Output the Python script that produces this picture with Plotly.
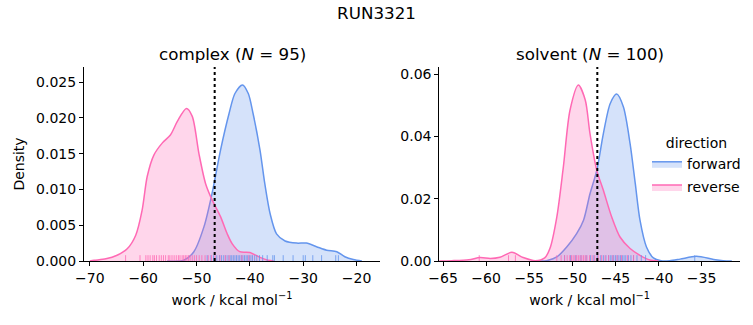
import plotly.graph_objects as go

# ---------------- data ----------------
panel_titles = ["complex (<i>N</i> = 95)", "solvent (<i>N</i> = 100)"]
directions = ["forward", "reverse"]

# KDE curves: complex
complex_fwd_x = [-55.5, -52.4, -50.5, -48.6, -47.1, -45.5, -43.9, -42.8, -41.4, -40.3, -39.4, -38.1,
                 -37.2, -36.2, -35.0, -33.4, -31.2, -29.4, -27.5, -25.6, -23.7, -22.2, -20.6, -19.0]
complex_fwd_y = [0.0, 0.0001, 0.0013, 0.0048, 0.0094, 0.0155, 0.0206, 0.0234, 0.0246, 0.0234, 0.0206, 0.0155,
                 0.0108, 0.0066, 0.0038, 0.0028, 0.0025, 0.0025, 0.0020, 0.0015, 0.0013, 0.0006, 0.0002, 0.0]
complex_rev_x = [-70.0, -69.2, -67.0, -64.9, -63.0, -61.4, -60.2, -59.25, -58.0, -56.4, -54.9, -53.6,
                 -51.9, -50.8, -49.55, -48.3, -47.06, -45.5, -44.25, -43.3, -41.9, -40.0, -38.1, -36.6, -35.5]
complex_rev_y = [0.0, 0.0001, 0.0003, 0.0008, 0.0017, 0.0036, 0.0071, 0.0118, 0.0148, 0.0165, 0.0176, 0.0195,
                 0.0213, 0.0202, 0.0150, 0.0108, 0.0085, 0.0062, 0.0038, 0.0024, 0.0013, 0.0012, 0.0005, 0.0001, 0.0]

# KDE curves: solvent
solvent_fwd_x = [-54.0, -53.0, -51.8, -50.65, -49.5, -48.7, -47.95, -47.17, -46.4, -45.6, -44.85, -44.08,
                 -43.3, -42.7, -42.15, -41.4, -40.6, -39.7, -38.7, -37.5, -35.6, -33.6, -32.5, -31.5]
solvent_fwd_y = [0.0, 0.0001, 0.0013, 0.0045, 0.0088, 0.0131, 0.0216, 0.0290, 0.0409, 0.0506, 0.0536, 0.0495,
                 0.0377, 0.0249, 0.0131, 0.0045, 0.0010, 0.0001, 0.0001, 0.0006, 0.0015, 0.0005, 0.0001, 0.0]
solvent_rev_x = [-65.5, -64.0, -62.0, -60.7, -59.5, -58.4, -57.0, -55.7, -54.3, -53.2, -52.6, -51.8, -51.04,
                 -50.27, -49.3, -48.5, -47.95, -47.17, -46.4, -45.43, -44.47, -43.3, -42.15, -41.0, -40.0]
solvent_rev_y = [0.0, 0.0001, 0.0004, 0.0011, 0.0008, 0.0012, 0.0028, 0.0011, 0.0001, 0.0010, 0.0040, 0.0141, 0.0302,
                 0.0484, 0.0565, 0.0517, 0.0409, 0.0292, 0.0227, 0.0141, 0.0077, 0.0040, 0.0018, 0.0003, 0.0]

# rug samples (approximate positions of the rug ticks)
complex_fwd_rug = [-48.0, -47.3, -46.8, -46.2, -45.7, -45.3, -44.9, -44.5, -44.1, -43.7, -43.4, -43.1, -42.8,
                   -42.5, -42.2, -41.9, -41.6, -41.3, -41.0, -40.7, -40.4, -40.1, -39.8, -39.5, -39.1, -38.7,
                   -38.2, -37.6, -36.75, -35.7, -35.4, -33.75, -31.9, -30.0, -29.6, -28.2, -26.55, -23.9, -23.4]
complex_rev_rug = [-63.3, -60.6, -59.5, -59.1, -58.7, -58.2, -57.9, -57.5, -57.0, -56.6, -56.2, -55.8, -55.3,
                   -55.0, -54.6, -54.2, -53.8, -53.4, -53.1, -52.7, -52.4, -52.1, -51.8, -51.5, -51.2, -50.8,
                   -50.4, -50.0, -49.5, -49.0, -48.4, -47.8, -47.2, -46.5, -45.6, -44.6, -43.9, -41.5, -40.2]
solvent_fwd_rug = [-50.9, -50.2, -49.6, -49.0, -48.4, -47.9, -47.5, -47.1, -46.7, -46.4, -46.1, -45.8, -45.6,
                   -45.4, -45.2, -45.0, -44.8, -44.6, -44.4, -44.2, -44.0, -43.8, -43.5, -43.2, -42.9, -42.5,
                   -42.0, -41.5, -35.8]
solvent_rev_rug = [-60.8, -57.4, -56.6, -51.8, -51.3, -50.9, -50.6, -50.3, -50.1, -49.9, -49.7, -49.5, -49.3,
                   -49.1, -48.9, -48.7, -48.5, -48.3, -48.0, -47.7, -47.4, -47.0, -46.6, -46.2, -45.8, -45.3,
                   -44.8, -44.3, -43.6, -42.9]

# dotted reference line (free energy estimate) per panel
dg_values = [-46.6, -47.1]

# ---------------- styling ----------------
line_colors = {"forward": "rgb(100,149,237)", "reverse": "rgb(255,105,180)"}
fill_colors = {"forward": "rgba(100,149,237,0.27)", "reverse": "rgba(255,105,180,0.27)"}
rug_colors = {"forward": "rgba(100,149,237,0.8)", "reverse": "rgba(255,105,180,0.8)"}
FONT = "DejaVu Sans"
FS = 14
W, H = 753, 325

panels = [
    {"curves": {"forward": (complex_fwd_x, complex_fwd_y), "reverse": (complex_rev_x, complex_rev_y)},
     "rugs": {"forward": complex_fwd_rug, "reverse": complex_rev_rug},
     "xrange": [-71.1, -15.6], "yrange": [0, 0.0271], "ytick": 0.005, "yfmt": ".3f",
     "xtick": 10, "domain": [84 / W, 380 / W]},
    {"curves": {"forward": (solvent_fwd_x, solvent_fwd_y), "reverse": (solvent_rev_x, solvent_rev_y)},
     "rugs": {"forward": solvent_fwd_rug, "reverse": solvent_rev_rug},
     "xrange": [-65.43, -30.55], "yrange": [0, 0.0623], "ytick": 0.02, "yfmt": ".2f",
     "xtick": 5, "domain": [439.3 / W, 740 / W]},
]

fig = go.Figure()
ydom = [(H - 261) / H, (H - 67) / H]

for i, p in enumerate(panels):
    xa = "x" if i == 0 else "x2"
    ya = "y" if i == 0 else "y2"
    for d in directions:
        xs, ys = p["curves"][d]
        fig.add_trace(go.Scatter(
            x=xs, y=ys, mode="lines", line=dict(color=line_colors[d], width=1.5, shape="spline", smoothing=0.8),
            fill="tozeroy", fillcolor=fill_colors[d], name=d, legendgroup=d,
            showlegend=(i == 1), xaxis=xa, yaxis=ya, hoverinfo="skip"))
    rug_h = 0.03 * p["yrange"][1]
    for d in directions:
        rx, ry = [], []
        for v in p["rugs"][d]:
            rx += [v, v, None]
            ry += [0, rug_h, None]
        fig.add_trace(go.Scatter(x=rx, y=ry, mode="lines", line=dict(color=rug_colors[d], width=1),
                                 showlegend=False, xaxis=xa, yaxis=ya, hoverinfo="skip"))
    fig.add_shape(type="line", xref=xa, yref=f"{ya} domain", x0=dg_values[i], x1=dg_values[i],
                  y0=0, y1=1, line=dict(color="black", width=2, dash="dot"))

axis_common = dict(showgrid=False, zeroline=False, showline=True, linecolor="black", linewidth=1,
                   ticks="outside", ticklen=4, tickwidth=1, tickcolor="black", automargin=False,
                   tickfont=dict(family=FONT, size=FS, color="black"))

xtitle = dict(text="work / kcal mol<sup>−1</sup>", standoff=10, font=dict(family=FONT, size=FS))

fig.update_layout(
    width=W, height=H, margin=dict(l=0, r=0, t=0, b=0),
    paper_bgcolor="white", plot_bgcolor="white",
    font=dict(family=FONT, color="black"),
    title=dict(text="RUN3321", x=0.5, xanchor="center", y=1 - 13 / H, yanchor="middle",
               font=dict(family=FONT, size=16.7, color="black")),
    xaxis=dict(domain=panels[0]["domain"], range=panels[0]["xrange"], dtick=panels[0]["xtick"],
               anchor="y", title=xtitle, **axis_common),
    yaxis=dict(domain=ydom, range=panels[0]["yrange"], dtick=panels[0]["ytick"], tickformat=panels[0]["yfmt"],
               anchor="x", title=dict(text="Density", standoff=8, font=dict(family=FONT, size=FS)),
               **axis_common),
    xaxis2=dict(domain=panels[1]["domain"], range=panels[1]["xrange"], dtick=panels[1]["xtick"],
                anchor="y2", title=xtitle, **axis_common),
    yaxis2=dict(domain=ydom, range=panels[1]["yrange"], dtick=panels[1]["ytick"], tickformat=panels[1]["yfmt"],
                anchor="x2", **axis_common),
    legend=dict(x=647 / W, y=(H - 130) / H, xanchor="left", yanchor="top",
                bgcolor="rgba(0,0,0,0)", borderwidth=0,
                font=dict(family=FONT, size=FS, color="black"),
                title=dict(text="direction", side="top center", font=dict(family=FONT, size=FS)),
                itemwidth=30, tracegroupgap=2),
)

for i, p in enumerate(panels):
    cx = (p["domain"][0] + p["domain"][1]) / 2
    fig.add_annotation(text=panel_titles[i], x=cx, y=(H - 54) / H, xref="paper", yref="paper",
                       xanchor="center", yanchor="middle", showarrow=False,
                       font=dict(family=FONT, size=16.7, color="black"))

fig.write_html("out.html")
